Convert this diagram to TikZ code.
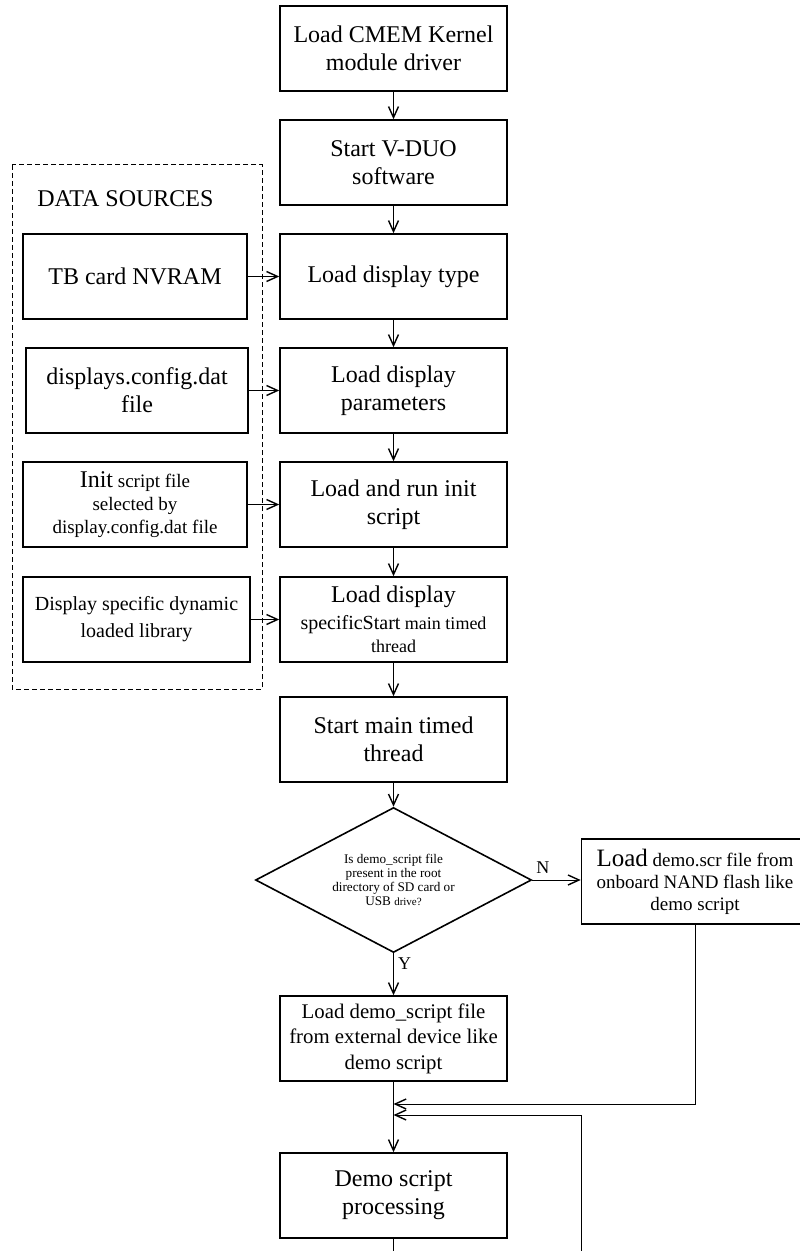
\documentclass[tikz,border=0pt]{standalone}
\usepackage{fontspec}
\setmainfont{Liberation Serif}
\usetikzlibrary{positioning,shapes.geometric,arrows.meta}

\begin{document}
\begin{tikzpicture}[x=0.5pt,y=-0.5pt,
        every node/.style={font=\fontsize{12}{14}\selectfont},
        proc/.style={draw,line width=0.8pt,minimum width=113.5pt,minimum height=42.5pt,align=center,inner sep=1pt},
        src/.style={proc,minimum width=112pt},
        cond/.style={draw,line width=0.8pt,diamond,aspect=1.9,minimum width=138pt,minimum height=72.5pt,
          inner sep=0pt,align=center,font=\fontsize{6.6}{7}\selectfont},
        flow/.style={-{Straight Barb[length=5.5pt,width=5pt,line width=0.7pt]},line width=0.5pt},
        link/.style={line width=0.5pt},
        yn/.style={font=\fontsize{9}{9}\selectfont,inner sep=1pt},
      ]
      \useasboundingbox (0,0) rectangle (799,1251);

      % main column
      \node[proc] (load_kernel)  at (393.5,48.5)  {Load CMEM Kernel\\module driver};
      \node[proc] (start_vduo)   at (393.5,162.5) {Start V-DUO\\software};
      \node[proc] (disp_type)    at (393.5,276.5) {Load display type};
      \node[proc] (disp_param)   at (393.5,390.5) {Load display\\parameters};
      \node[proc] (init_run)     at (393.5,504.5) {Load and run init\\script};
      \node[proc,font=\fontsize{12}{13.5}\selectfont] (disp_spec) at (393.5,619.5) {Load display\\{\fontsize{10}{11}\selectfont specificStart}{\fontsize{9}{11}\selectfont{} main timed}\\[-2pt]{\fontsize{9}{11}\selectfont thread}};
      \node[proc] (start_thread) at (393.5,739.5) {Start main timed\\thread};
      \node[cond] (decide)       at (393.5,880)   {Is demo\_script file\\present in the root\\directory of SD card or\\USB {\fontsize{5.5}{6}\selectfont drive?}};
      \node[proc,font=\fontsize{10.4}{12.8}\selectfont] (ext_demo) at (393.5,1038.5) {Load demo\_script file\\from external device like\\demo script};
      \node[proc,font=\fontsize{9.5}{11}\selectfont] (nand_demo) at (695,881.5) {{\fontsize{12.5}{14}\selectfont Load} demo.scr file from\\onboard NAND flash like\\demo script};
      \node[proc] (processing)   at (393.5,1195.5) {Demo script\\processing};

      % data sources
      \draw[link,dash pattern=on 2.5pt off 1.5pt] (12,165) rectangle (262,689);
      \node[anchor=base west,inner sep=0pt] (src_title) at (37,207) {DATA SOURCES};
      \node[src] (tb_nvram)  at (135,276.5) {TB card NVRAM};
      \node[src,minimum width=111pt] (cfg_file) at (137,390.5) {displays.config.dat\\file};
      \node[src,font=\fontsize{9.5}{11.5}\selectfont] (init_file) at (135,504.5) {{\fontsize{12}{14}\selectfont Init} script file\\selected by\\display.config.dat file};
      \node[src,minimum width=113.5pt,font=\fontsize{10}{13.5}\selectfont] (dyn_lib) at (136.5,619.5) {Display specific dynamic\\loaded library};

      \coordinate (merge_a)  at (393.5,1104);
      \coordinate (merge_b)  at (393.5,1115);
      \coordinate (loop_end) at (581,1251);
      \coordinate (out_end)  at (393.5,1251);

      \draw[flow] (load_kernel) -- (start_vduo);
      \draw[flow] (start_vduo) -- (disp_type);
      \draw[flow] (disp_type) -- (disp_param);
      \draw[flow] (disp_param) -- (init_run);
      \draw[flow] (init_run) -- (disp_spec);
      \draw[flow] (disp_spec) -- (start_thread);
      \draw[flow] (start_thread) -- (decide);
      \draw[flow] (decide.east) -- node[yn,pos=0.22,above=2pt] {N} (decide.east -| nand_demo.west);
      \draw[flow] (decide.south) -- node[yn,pos=0.24,right=1pt] {Y} (ext_demo.north);
      \draw[flow] (ext_demo) -- (processing);
      \draw[flow] (nand_demo.south) |- (merge_a);
      \draw[flow] (loop_end) |- (merge_b);
      \draw[link] (processing) -- (out_end);

      \draw[flow] (tb_nvram) -- (disp_type);
      \draw[flow] (cfg_file) -- (disp_param);
      \draw[flow] (init_file) -- (init_run);
      \draw[flow] (dyn_lib) -- (disp_spec);
    \end{tikzpicture}
\end{document}
